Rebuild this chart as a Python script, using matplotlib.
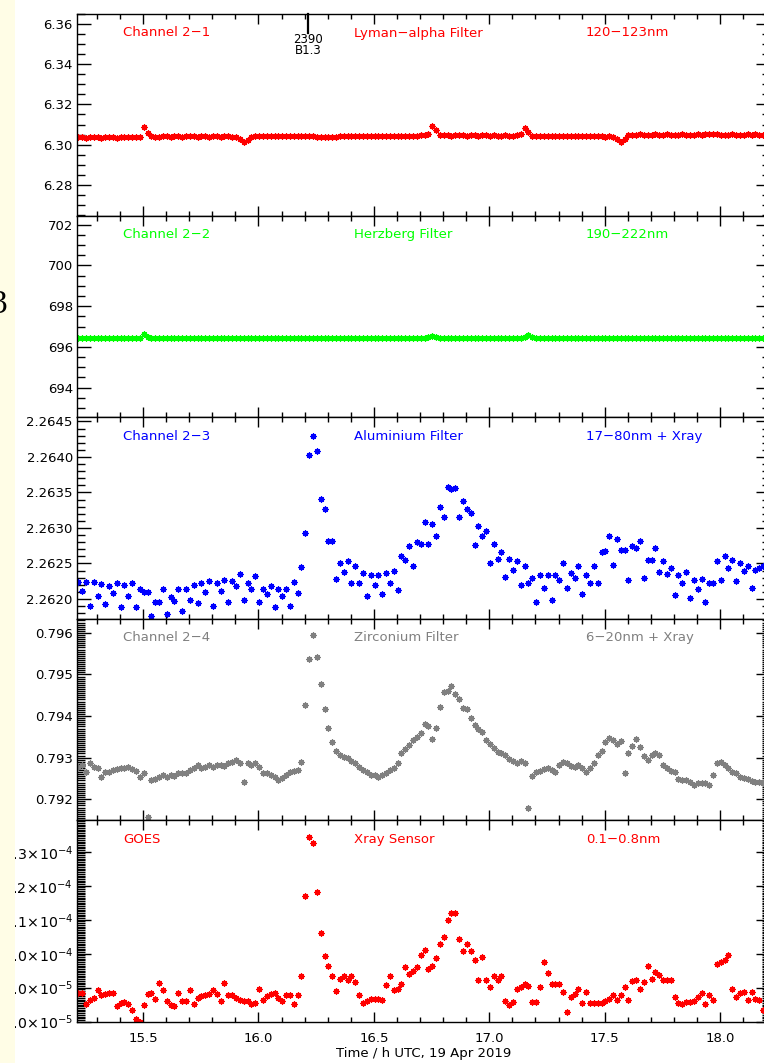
import numpy as np
import matplotlib
matplotlib.use("Agg")
import matplotlib.pyplot as plt
from matplotlib.ticker import MultipleLocator, FuncFormatter, FormatStrFormatter
from matplotlib.patches import Rectangle
import matplotlib.transforms as mtransforms

# ---------------- data ----------------
start_hour = 15.2196          # first sample (h UTC)
cadence_h = 1.0 / 60.0        # one-minute cadence
x_limits = (15.214, 18.214)

ch21_lyman = [
    6.3036, 6.3038, 6.3035, 6.3037, 6.3036, 6.3038, 6.3035, 6.3036, 6.3038, 6.3036,
    6.3035, 6.3037, 6.3036, 6.3038, 6.3037, 6.3036, 6.3038, 6.3086, 6.3058, 6.3042,
    6.3040, 6.3038, 6.3041, 6.3042, 6.3040, 6.3041, 6.3042, 6.3040, 6.3041, 6.3042,
    6.3041, 6.3040, 6.3042, 6.3041, 6.3040, 6.3042, 6.3041, 6.3040, 6.3041, 6.3042,
    6.3040, 6.3038, 6.3030, 6.3011, 6.3025, 6.3040, 6.3042, 6.3041, 6.3043, 6.3042,
    6.3041, 6.3043, 6.3042, 6.3041, 6.3043, 6.3042, 6.3044, 6.3042, 6.3041, 6.3043,
    6.3042, 6.3041, 6.3040, 6.3039, 6.3037, 6.3036, 6.3037, 6.3038, 6.3041, 6.3042,
    6.3043, 6.3042, 6.3041, 6.3043, 6.3042, 6.3044, 6.3042, 6.3043, 6.3042, 6.3041,
    6.3043, 6.3042, 6.3044, 6.3043, 6.3042, 6.3044, 6.3043, 6.3045, 6.3044, 6.3046,
    6.3048, 6.3055, 6.3094, 6.3072, 6.3047, 6.3046, 6.3047, 6.3045, 6.3046, 6.3047,
    6.3046, 6.3045, 6.3047, 6.3046, 6.3045, 6.3046, 6.3047, 6.3045, 6.3046, 6.3044,
    6.3045, 6.3046, 6.3044, 6.3045, 6.3046, 6.3052, 6.3082, 6.3064, 6.3043, 6.3042,
    6.3041, 6.3043, 6.3042, 6.3041, 6.3042, 6.3043, 6.3041, 6.3042, 6.3043, 6.3042,
    6.3041, 6.3042, 6.3043, 6.3042, 6.3041, 6.3042, 6.3041, 6.3040, 6.3041, 6.3036,
    6.3030, 6.3011, 6.3026, 6.3048, 6.3050, 6.3049, 6.3051, 6.3050, 6.3049, 6.3050,
    6.3051, 6.3050, 6.3049, 6.3051, 6.3050, 6.3049, 6.3050, 6.3051, 6.3050, 6.3049,
    6.3050, 6.3051, 6.3050, 6.3054, 6.3055, 6.3054, 6.3053, 6.3050, 6.3049, 6.3050,
    6.3051, 6.3050, 6.3049, 6.3050, 6.3051, 6.3050, 6.3051, 6.3050, 6.3050,
]

ch22_herzberg = [
    696.43, 696.44, 696.42, 696.43, 696.44, 696.43, 696.42, 696.44, 696.43, 696.42,
    696.44, 696.43, 696.42, 696.44, 696.43, 696.44, 696.45, 696.62, 696.50, 696.44,
    696.43, 696.42, 696.44, 696.43, 696.42, 696.44, 696.43, 696.44, 696.42, 696.43,
    696.44, 696.43, 696.42, 696.44, 696.43, 696.42, 696.44, 696.43, 696.44, 696.42,
    696.43, 696.44, 696.43, 696.42, 696.44, 696.43, 696.42, 696.44, 696.43, 696.44,
    696.42, 696.43, 696.44, 696.43, 696.42, 696.44, 696.43, 696.42, 696.44, 696.43,
    696.44, 696.42, 696.43, 696.44, 696.43, 696.42, 696.44, 696.43, 696.42, 696.44,
    696.43, 696.44, 696.42, 696.43, 696.44, 696.43, 696.42, 696.44, 696.43, 696.42,
    696.44, 696.43, 696.44, 696.42, 696.43, 696.44, 696.43, 696.42, 696.44, 696.45,
    696.46, 696.47, 696.52, 696.48, 696.45, 696.44, 696.43, 696.44, 696.42, 696.43,
    696.44, 696.43, 696.42, 696.44, 696.43, 696.42, 696.44, 696.43, 696.44, 696.42,
    696.43, 696.44, 696.43, 696.42, 696.44, 696.46, 696.50, 696.58, 696.47, 696.44,
    696.43, 696.42, 696.44, 696.43, 696.42, 696.44, 696.43, 696.44, 696.42, 696.43,
    696.44, 696.43, 696.42, 696.44, 696.43, 696.42, 696.44, 696.43, 696.44, 696.42,
    696.43, 696.44, 696.43, 696.42, 696.44, 696.43, 696.42, 696.44, 696.43, 696.44,
    696.42, 696.43, 696.44, 696.43, 696.42, 696.44, 696.43, 696.42, 696.44, 696.43,
    696.44, 696.42, 696.43, 696.44, 696.43, 696.42, 696.44, 696.43, 696.42, 696.44,
    696.43, 696.44, 696.42, 696.43, 696.44, 696.43, 696.42, 696.44, 696.43,
]

ch23_aluminium = [
    2.26224, 2.26211, 2.26224, 2.26190, 2.26224, 2.26204, 2.26221, 2.26193, 2.26218, 2.26208,
    2.26222, 2.26189, 2.26220, 2.26204, 2.26222, 2.26189, 2.26214, 2.26210, 2.26210, 2.26176,
    2.26196, 2.26196, 2.26214, 2.26179, 2.26203, 2.26197, 2.26214, 2.26183, 2.26214, 2.26199,
    2.26220, 2.26194, 2.26222, 2.26210, 2.26225, 2.26190, 2.26222, 2.26211, 2.26227, 2.26196,
    2.26225, 2.26218, 2.26235, 2.26199, 2.26222, 2.26214, 2.26232, 2.26196, 2.26214, 2.26207,
    2.26218, 2.26189, 2.26214, 2.26204, 2.26214, 2.26190, 2.26224, 2.26208, 2.26245,
    2.26293, 2.26403, 2.26429, 2.26409, 2.26341, 2.26327, 2.26281, 2.26281, 2.26228, 2.26250,
    2.26238, 2.26254, 2.26223, 2.26247, 2.26223, 2.26236, 2.26204, 2.26234, 2.26219, 2.26233,
    2.26207, 2.26237, 2.26223, 2.26239, 2.26213, 2.26260, 2.26255, 2.26274, 2.26247, 2.26280,
    2.26278, 2.26309, 2.26278, 2.26305, 2.26288, 2.26329, 2.26316, 2.26357, 2.26355, 2.26356,
    2.26315, 2.26338, 2.26326, 2.26321, 2.26276, 2.26303, 2.26289, 2.26295, 2.26250, 2.26278,
    2.26256, 2.26266, 2.26231, 2.26256, 2.26241, 2.26253, 2.26219, 2.26247, 2.26222, 2.26229,
    2.26195, 2.26234, 2.26215, 2.26233, 2.26199, 2.26234, 2.26226, 2.26250, 2.26215, 2.26237,
    2.26229, 2.26247, 2.26207, 2.26234, 2.26223, 2.26247, 2.26222, 2.26266, 2.26268, 2.26289,
    2.26248, 2.26284, 2.26269, 2.26269, 2.26227, 2.26275, 2.26272, 2.26282, 2.26230, 2.26255,
    2.26255, 2.26272, 2.26238, 2.26254, 2.26235, 2.26243, 2.26205, 2.26233, 2.26223, 2.26238,
    2.26202, 2.26226, 2.26214, 2.26228, 2.26196, 2.26223, 2.26222, 2.26254, 2.26227, 2.26260,
    2.26243, 2.26255, 2.26225, 2.26251, 2.26239, 2.26247, 2.26215, 2.26241, 2.26243, 2.26247,
]

ch24_zirconium = [
    0.79278, 0.79282, 0.79266, 0.79286, 0.79278, 0.79274, 0.79254, 0.79266, 0.79266, 0.79270,
    0.79272, 0.79276, 0.79275, 0.79278, 0.79272, 0.79267, 0.79254, 0.79262, 0.79158, 0.79246,
    0.79248, 0.79254, 0.79258, 0.79254, 0.79259, 0.79256, 0.79262, 0.79264, 0.79262, 0.79270,
    0.79275, 0.79283, 0.79274, 0.79278, 0.79282, 0.79278, 0.79282, 0.79282, 0.79280, 0.79286,
    0.79290, 0.79294, 0.79288, 0.79242, 0.79286, 0.79283, 0.79288, 0.79278, 0.79262, 0.79262,
    0.79258, 0.79254, 0.79246, 0.79250, 0.79258, 0.79266, 0.79267, 0.79270, 0.79290,
    0.79426, 0.79538, 0.79594, 0.79542, 0.79476, 0.79416, 0.79372, 0.79338, 0.79315, 0.79306,
    0.79302, 0.79298, 0.79291, 0.79288, 0.79278, 0.79270, 0.79266, 0.79258, 0.79258, 0.79254,
    0.79259, 0.79262, 0.79270, 0.79275, 0.79288, 0.79312, 0.79320, 0.79330, 0.79342, 0.79350,
    0.79360, 0.79382, 0.79376, 0.79346, 0.79372, 0.79422, 0.79457, 0.79460, 0.79473, 0.79454,
    0.79440, 0.79420, 0.79418, 0.79396, 0.79378, 0.79370, 0.79362, 0.79342, 0.79334, 0.79322,
    0.79314, 0.79310, 0.79306, 0.79296, 0.79291, 0.79288, 0.79291, 0.79286, 0.79180, 0.79256,
    0.79266, 0.79267, 0.79272, 0.79274, 0.79270, 0.79266, 0.79283, 0.79290, 0.79288, 0.79280,
    0.79278, 0.79282, 0.79275, 0.79266, 0.79274, 0.79286, 0.79307, 0.79315, 0.79338, 0.79348,
    0.79342, 0.79334, 0.79339, 0.79264, 0.79312, 0.79328, 0.79346, 0.79326, 0.79304, 0.79294,
    0.79306, 0.79312, 0.79306, 0.79282, 0.79274, 0.79267, 0.79266, 0.79248, 0.79246, 0.79246,
    0.79242, 0.79235, 0.79238, 0.79238, 0.79240, 0.79235, 0.79258, 0.79288, 0.79290, 0.79282,
    0.79275, 0.79266, 0.79262, 0.79254, 0.79250, 0.79248, 0.79243, 0.79242, 0.79242, 0.79238,
]

# GOES X-ray flux, in units of 1e-5
goes_xray_e5 = [
    8.85, 8.85, 8.53, 8.63, 8.71, 8.92, 8.78, 8.80, 8.83, 8.83,
    8.45, 8.55, 8.58, 8.51, 8.35, 8.08, 7.98, 8.48, 8.80, 8.83,
    8.68, 9.14, 8.92, 8.61, 8.48, 8.45, 8.83, 8.60, 8.61, 8.92,
    8.53, 8.70, 8.75, 8.78, 8.80, 8.92, 8.80, 8.61, 9.15, 8.78,
    8.78, 8.70, 8.63, 8.61, 8.61, 8.53, 8.55, 8.97, 8.63, 8.75,
    8.81, 8.83, 8.70, 8.61, 8.78, 8.78, 8.53, 8.78, 9.35,
    11.69, 13.42, 13.25, 11.81, 10.60, 9.94, 9.65, 9.35, 8.90, 9.27,
    9.35, 9.22, 9.35, 9.17, 8.78, 8.55, 8.61, 8.68, 8.68, 8.68,
    8.63, 9.07, 9.35, 8.94, 8.97, 9.10, 9.62, 9.40, 9.50, 9.62,
    9.95, 10.12, 9.54, 9.64, 9.87, 10.29, 10.49, 10.99, 11.19, 11.19,
    10.42, 10.09, 10.30, 10.09, 9.82, 9.22, 9.89, 9.22, 9.02, 9.35,
    9.22, 9.35, 8.61, 8.48, 8.58, 8.97, 9.02, 9.10, 9.04, 8.58,
    8.58, 9.02, 9.77, 9.44, 9.10, 9.10, 9.10, 8.86, 8.28, 8.73,
    8.81, 8.97, 8.55, 8.88, 8.55, 8.55, 8.55, 8.55, 8.61, 8.68,
    8.78, 8.63, 8.78, 9.02, 8.65, 9.19, 9.22, 8.97, 9.17, 9.64,
    9.27, 9.47, 9.37, 9.22, 9.24, 9.24, 8.73, 8.55, 8.53, 8.58,
    8.58, 8.61, 8.73, 8.85, 8.53, 8.78, 8.65, 9.70, 9.77, 9.80,
    9.95, 8.97, 8.73, 8.83, 8.88, 8.65, 8.88, 8.68, 8.63, 8.33,
]

panel_left_text = ["Channel 2\u22121", "Channel 2\u22122", "Channel 2\u22123", "Channel 2\u22124", "GOES"]
panel_mid_text = ["Lyman\u2212alpha Filter", "Herzberg Filter", "Aluminium Filter", "Zirconium Filter", "Xray Sensor"]
panel_right_text = ["120\u2212123nm", "190\u2212222nm", "17\u221280nm + Xray", "6\u221220nm + Xray", "0.1\u22120.8nm"]
flare_time = 16.214
flare_labels = ["2390", "B1.3"]
x_label = "Time / h UTC, 19 Apr 2019"

# ---------------- figure ----------------
W, H = 764, 1063
fig = plt.figure(figsize=(W / 100, H / 100), dpi=100)
fig.patch.set_facecolor("white")

left_px, right_px = 77, 769.5
top_px, bottom_px = 14, 1022
ph = (bottom_px - top_px) / 5.0

goes_vals = [v * 1e-5 for v in goes_xray_e5]
series = [ch21_lyman, ch22_herzberg, ch23_aluminium, ch24_zirconium, goes_vals]
colors = ["#ff0000", "#00ff00", "#0000ff", "#808080", "#ff0000"]
ylims = [(6.2647, 6.3650), (692.55, 702.45), (2.26172, 2.26456), (0.79149, 0.79634), (7.99e-5, 1.3923e-4)]
majors = [0.02, 2, 0.0005, 0.001, 1e-5]
minors = [0.005, 0.5, 0.0001, 0.00005, 5e-7]


def goes_fmt(v, pos):
    if v <= 0:
        return ""
    exp = int(np.floor(np.log10(v) + 1e-9))
    mant = v / 10 ** exp
    return r"$%.1f\!\times\!10^{%d}$" % (mant, exp)


fmts = [FormatStrFormatter("%.2f"), FormatStrFormatter("%d"), FormatStrFormatter("%.4f"),
        FormatStrFormatter("%.3f"), FuncFormatter(goes_fmt)]

marker = (8, 2, 0)
axes = []
for k in range(5):
    y0 = 1 - (top_px + (k + 1) * ph) / H
    ax = fig.add_axes([left_px / W, y0, (right_px - left_px) / W, ph / H])
    vals = series[k]
    t = start_hour + cadence_h * np.arange(len(vals))
    ax.plot(t, vals, linestyle="none", marker=marker, ms=4.4, mew=0.9,
            color=colors[k], mec=colors[k], clip_on=True)
    ax.set_xlim(*x_limits)
    ax.set_ylim(*ylims[k])
    ax.xaxis.set_major_locator(MultipleLocator(0.5))
    ax.xaxis.set_minor_locator(MultipleLocator(0.1))
    ax.yaxis.set_major_locator(MultipleLocator(majors[k]))
    ax.yaxis.set_minor_locator(MultipleLocator(minors[k]))
    ax.yaxis.set_major_formatter(fmts[k])
    ax.tick_params(axis="both", which="both", direction="in", top=True, right=True,
                   color="black", width=1.0, labelsize=9.5)
    ax.tick_params(axis="x", which="major", length=7.2, pad=7.5)
    ax.tick_params(axis="x", which="minor", length=3.3)
    ax.tick_params(axis="y", which="major", length=10.4, pad=3)
    ax.tick_params(axis="y", which="minor", length=5.6)
    for s in ax.spines.values():
        s.set_linewidth(1.0)
    if k < 4:
        ax.tick_params(axis="x", labelbottom=False)
    ty = 1 - 19 / ph
    ax.text(0.0664, ty, panel_left_text[k], transform=ax.transAxes, color=colors[k],
            fontsize=9.5, va="center", ha="left")
    ax.text(0.400, ty, panel_mid_text[k], transform=ax.transAxes, color=colors[k],
            fontsize=9.5, va="center", ha="left")
    ax.text(0.735, ty, panel_right_text[k], transform=ax.transAxes, color=colors[k],
            fontsize=9.5, va="center", ha="left")
    axes.append(ax)

axes[-1].set_xlabel(x_label, fontsize=9.5, labelpad=1)
axes[-1].tick_params(axis="y", which="major", labelsize=10.2)

# flare marker in top panel
ax1 = axes[0]
trans = mtransforms.blended_transform_factory(ax1.transData, ax1.transAxes)
ax1.plot([flare_time, flare_time], [1.0, 1 - 19 / ph], transform=trans, color="black",
         lw=1.6, clip_on=False)
ax1.text(flare_time, 1 - 25.5 / ph, flare_labels[0], transform=trans, ha="center", va="center",
         fontsize=8.5, color="black")
ax1.text(flare_time, 1 - 37 / ph, flare_labels[1], transform=trans, ha="center", va="center",
         fontsize=8.5, color="black")

# cream slide margin on the left, covering part of the labels
fig.patches.append(Rectangle((0, 0), 15 / W, 1, transform=fig.transFigure,
                             facecolor="#fffde6", edgecolor="none", zorder=5))
fig.text(7 / W, 1 - 305 / H, "3", fontsize=24, family="Liberation Serif", ha="right",
         va="center", color="black", zorder=6)

fig.savefig("out.png", dpi=100)
